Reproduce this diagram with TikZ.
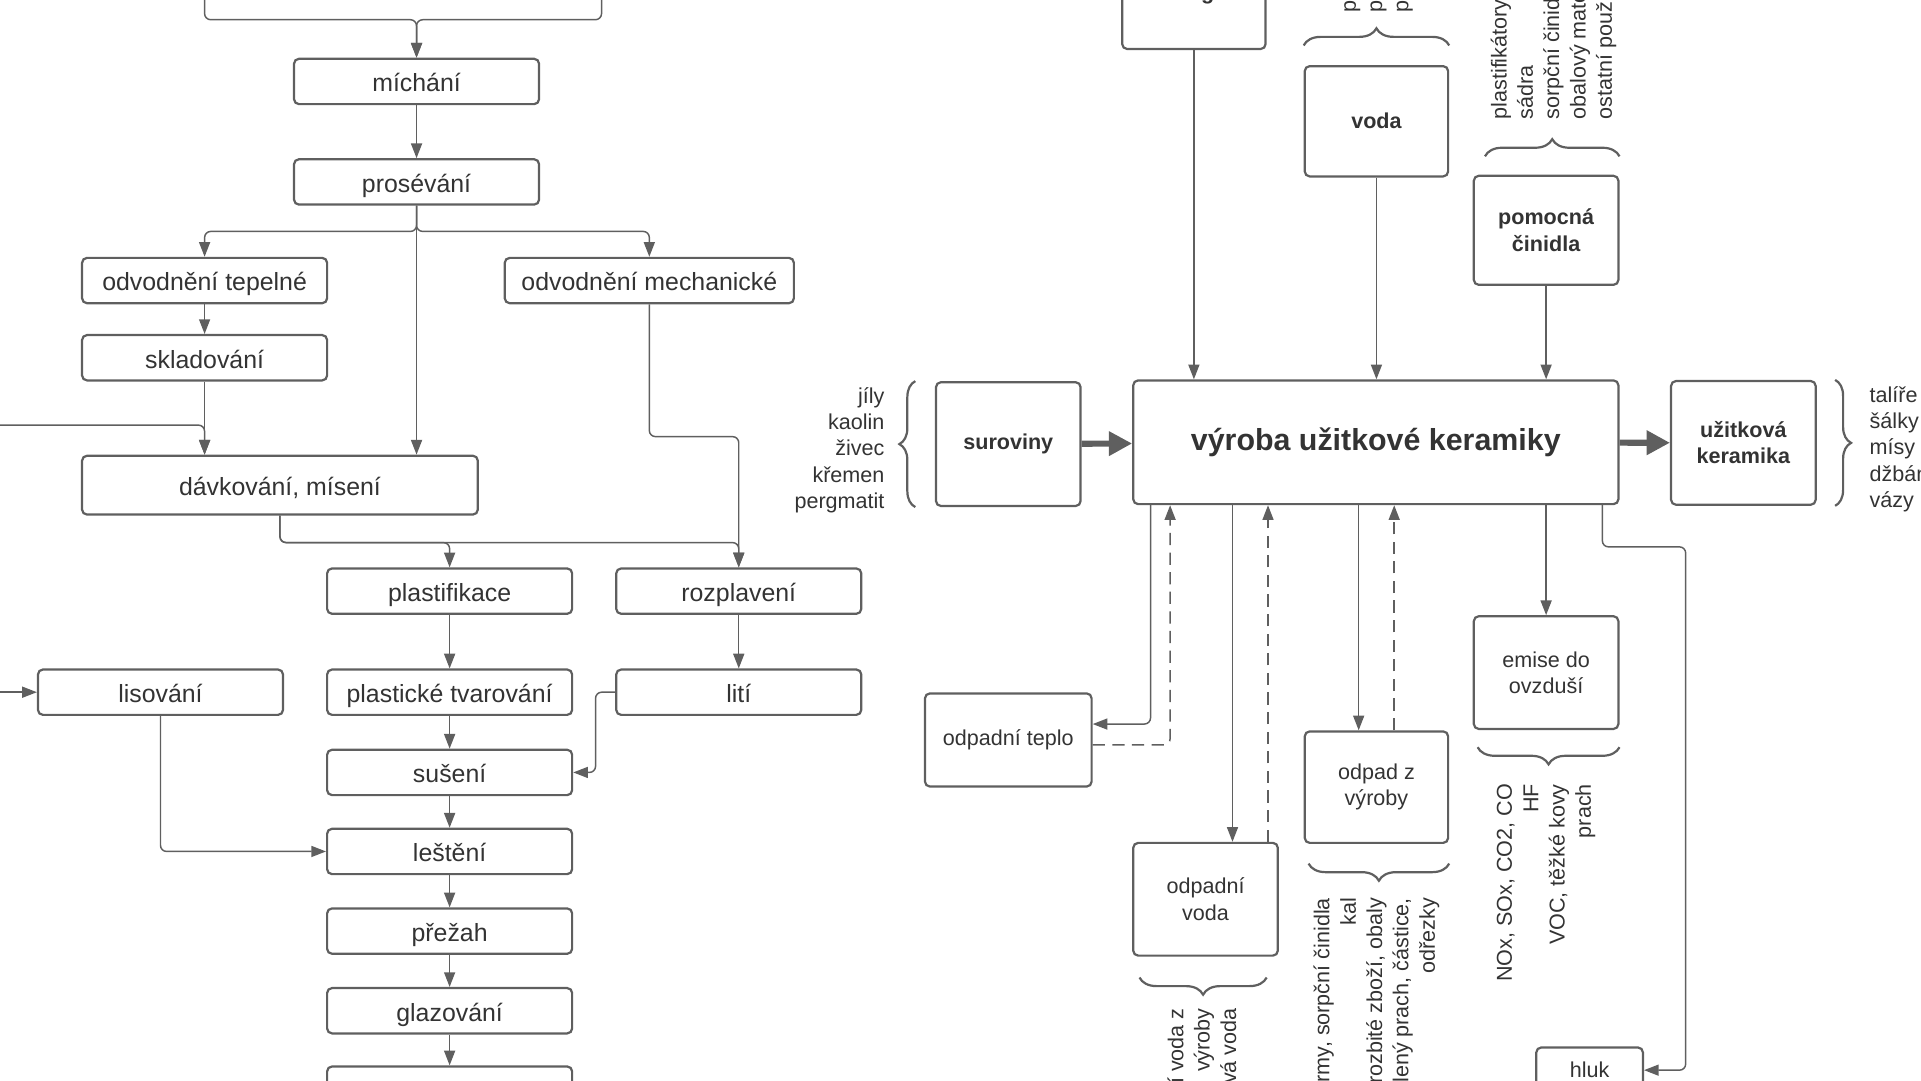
\documentclass[tikz,border=0pt]{standalone}
\usepackage{fontspec}
\setmainfont{Liberation Sans}
\usetikzlibrary{arrows.meta,decorations.pathreplacing}
\definecolor{linegray}{HTML}{5F5F5F}
\definecolor{textgray}{HTML}{333333}

\begin{document}
\begin{tikzpicture}[x=1pt, y=-1pt,
            box/.style = {draw=linegray, line width=1.8pt, rounded corners=4pt,
                          align=center, text=textgray, inner sep=2pt},
            lbox/.style = {box, minimum width=200pt, minimum height=37pt,
                           text height=19pt, text depth=2pt,
                           font=\fontsize{20.3}{24}\selectfont},
            rbox/.style = {box, font=\fontsize{17.6}{21.5}\selectfont},
            bbox/.style = {box, font=\fontsize{17.6}{21.5}\selectfont\bfseries},
            conn/.style = {draw=linegray, line width=1.2pt, rounded corners=5pt,
                           -{Triangle[width=9pt,length=12pt]}},
            back/.style = {conn, dash pattern=on 10pt off 6pt},
            fat/.style = {draw=linegray, line width=5pt, -{Triangle[width=19pt,length=19pt]}},
            brc/.style = {draw=linegray, line width=1.8pt, decorate,
                          decoration={brace, amplitude=#1}},
            note/.style = {text=textgray, inner sep=0pt, font=\fontsize{17.6}{21.5}\selectfont}]
    \useasboundingbox (0,0) rectangle (1568,882);

    % postup vyroby
    \coordinate (zdrojA) at (167,-40);
    \coordinate (zdrojB) at (491,-40);
    \coordinate (zleva) at (-10,347);
    \coordinate (zleva2) at (-10,565);
    \node[lbox] (michani) at (340,66.5) {míchání};
    \node[lbox] (prosevani) at (340,148.5) {prosévání};
    \node[lbox] (odvt) at (167,229) {odvodnění tepelné};
    \node[lbox, minimum width=236pt] (odvm) at (530,229) {odvodnění mechanické};
    \node[lbox] (sklad) at (167,292) {skladování};
    \node[lbox, minimum width=323pt, minimum height=48pt] (davk) at (228.5,396) {dávkování, mísení};
    \node[lbox] (plast) at (367,482.5) {plastifikace};
    \node[lbox] (rozpl) at (603,482.5) {rozplavení};
    \node[lbox] (lis) at (131,565) {lisování};
    \node[lbox] (ptvar) at (367,565) {plastické tvarování};
    \node[lbox] (liti) at (603,565) {lití};
    \node[lbox] (suseni) at (367,630.5) {sušení};
    \node[lbox] (lest) at (367,695) {leštění};
    \node[lbox] (prezah) at (367,760) {přežah};
    \node[lbox] (glaz) at (367,825) {glazování};
    \node[lbox] (dalsi) at (367,889) {};

    \draw[conn] (zdrojA) |- ([yshift=31pt]michani.north) -- (michani.north);
    \draw[conn] (zdrojB) |- ([yshift=31pt]michani.north) -- (michani.north);
    \draw[conn] (michani) -- (prosevani);
    \draw[conn] (prosevani.south) -- ++(0,21) -| (odvt.north);
    \draw[conn] (prosevani.south) -- ++(0,21) -| (odvm.north);
    \draw[conn] (prosevani.south) -- (prosevani.south |- davk.north);
    \draw[conn] (odvt) -- (sklad);
    \draw[conn] (sklad) -- (sklad |- davk.north);
    \draw[conn] (zleva) -| (sklad |- davk.north);
    \draw[conn] (odvm.south) -- ++(0,108) -| (rozpl.north);
    \draw[conn] (davk.south) -- ++(0,22) -| (plast.north);
    \draw[conn] (davk.south) -- ++(0,22) -| (rozpl.north);
    \draw[conn] (plast) -- (ptvar);
    \draw[conn] (rozpl) -- (liti);
    \draw[conn] (zleva2) -- (lis);
    \draw[conn] (liti.west) -- ++(-16,0) |- (suseni.east);
    \draw[conn] (ptvar) -- (suseni);
    \draw[conn] (suseni) -- (lest);
    \draw[conn] (lis) |- (lest);
    \draw[conn] (lest) -- (prezah);
    \draw[conn] (prezah) -- (glaz);
    \draw[conn] (glaz) -- (dalsi);

    % bilance
    \node[bbox, minimum width=118pt, minimum height=101pt] (surov) at (823,362.5) {suroviny};
    \node[box, minimum width=396pt, minimum height=101pt,
          font=\fontsize{24.8}{30}\selectfont\bfseries] (vyroba) at (1123,361) {výroba užitkové keramiky};
    \node[bbox, minimum width=118pt, minimum height=101pt] (uzit) at (1423,361.5) {užitková\\keramika};
    \node[bbox, minimum width=117pt, minimum height=90pt] (energie) at (974.5,-5) {energie};
    \node[bbox, minimum width=117pt, minimum height=90pt] (voda) at (1123.5,99) {voda};
    \node[bbox, minimum width=118pt, minimum height=89pt] (pomoc) at (1262,188) {pomocná\\činidla};
    \node[rbox, minimum width=136pt, minimum height=76pt] (teplo) at (823,604) {odpadní teplo};
    \node[rbox, minimum width=118pt, minimum height=92pt] (odpvoda) at (984,734) {odpadní\\voda};
    \node[rbox, minimum width=117pt, minimum height=91pt] (odpad) at (1123.5,642.5) {odpad z\\výroby};
    \node[rbox, minimum width=118pt, minimum height=92pt] (emise) at (1262,549) {emise do\\ovzduší};
    \node[rbox, minimum width=87pt, minimum height=37pt] (hluk) at (1297.5,873.5) {hluk};

    \draw[fat] (surov) -- (vyroba);
    \draw[fat] (vyroba) -- (uzit);
    \draw[conn] (energie) -- (energie |- vyroba.north);
    \draw[conn] (voda) -- (voda |- vyroba.north);
    \draw[conn] (pomoc) -- (pomoc |- vyroba.north);
    \draw[conn] ([xshift=15pt]vyroba.south west) |- ([yshift=13pt]teplo.east);
    \draw[back] ([yshift=-4pt]teplo.east) -| ([xshift=31pt]vyroba.south west);
    \draw[conn] ([xshift=22pt]odpvoda.north |- vyroba.south) -- ([xshift=22pt]odpvoda.north);
    \draw[back] ([xshift=51pt]odpvoda.north) -- ([xshift=51pt]odpvoda.north |- vyroba.south);
    \draw[conn] ([xshift=-14.5pt]odpad.north |- vyroba.south) -- ([xshift=-14.5pt]odpad.north);
    \draw[back] ([xshift=14.5pt]odpad.north) -- ([xshift=14.5pt]odpad.north |- vyroba.south);
    \draw[conn] (emise |- vyroba.south) -- (emise);
    \draw[conn] ([xshift=-14pt]vyroba.south east) -- ++(0,34) -| ([xshift=34pt]hluk.east) -- (hluk.east);

    \draw[brc=13] ([xshift=-16pt]surov.south west) -- ([xshift=-16pt]surov.north west);
    \draw[brc=13] ([xshift=15pt]uzit.north east) -- ([xshift=15pt]uzit.south east);
    \draw[brc=14] ([yshift=16pt]voda.north west) -- ([yshift=16pt]voda.north east);
    \draw[brc=14] ([xshift=10pt,yshift=15pt]pomoc.north west) -- ([yshift=15pt]pomoc.north east);
    \draw[brc=14] ([yshift=-14pt]emise.south east) -- ([xshift=4pt,yshift=-14pt]emise.south west);
    \draw[brc=14] ([yshift=-16pt]odpad.south east) -- ([xshift=4pt,yshift=-16pt]odpad.south west);
    \draw[brc=14] ([xshift=-10pt,yshift=-17pt]odpvoda.south east) -- ([xshift=6pt,yshift=-17pt]odpvoda.south west);

    \node[note, anchor=east, align=right] (surtext) at ([xshift=-41pt,yshift=-5pt]surov.west)
        {jíly\\kaolin\\živec\\křemen\\pergmatit};
    \node[note, anchor=west, align=left] (uzittext) at ([xshift=43pt,yshift=-5pt]uzit.east)
        {talíře\\šálky\\mísy\\džbány\\vázy};
    \node[note, rotate=90, anchor=west, align=left] (vodatext) at ([yshift=43pt]voda.north)
        {pitná voda\\podzemní voda\\povrchová voda};
    \node[note, rotate=90, anchor=west, align=left] (pomoctext) at ([xshift=6pt,yshift=45pt]pomoc.north)
        {plastifikátory\\sádra\\sorpční činidla\\obalový materiál\\ostatní použitá činidla};
    \node[note, rotate=90, anchor=east, align=right] (emisetext) at ([yshift=-44pt]emise.south)
        {NOx, SOx, CO2, CO\\HF\\VOC, těžké kovy\\prach};
    \node[note, rotate=90, anchor=east, align=right] (odpadtext) at ([yshift=-44pt]odpad.south)
        {sádrové formy, sorpční činidla\\kal\\rozbité zboží, obaly\\oddělený prach, částice,\\odřezky};
    \node[note, rotate=90, anchor=east, align=right] (odpvodatext) at ([xshift=-3pt,yshift=-42pt]odpvoda.south)
        {odpadní voda z\\výroby\\dešťová voda};
\end{tikzpicture}
\end{document}
